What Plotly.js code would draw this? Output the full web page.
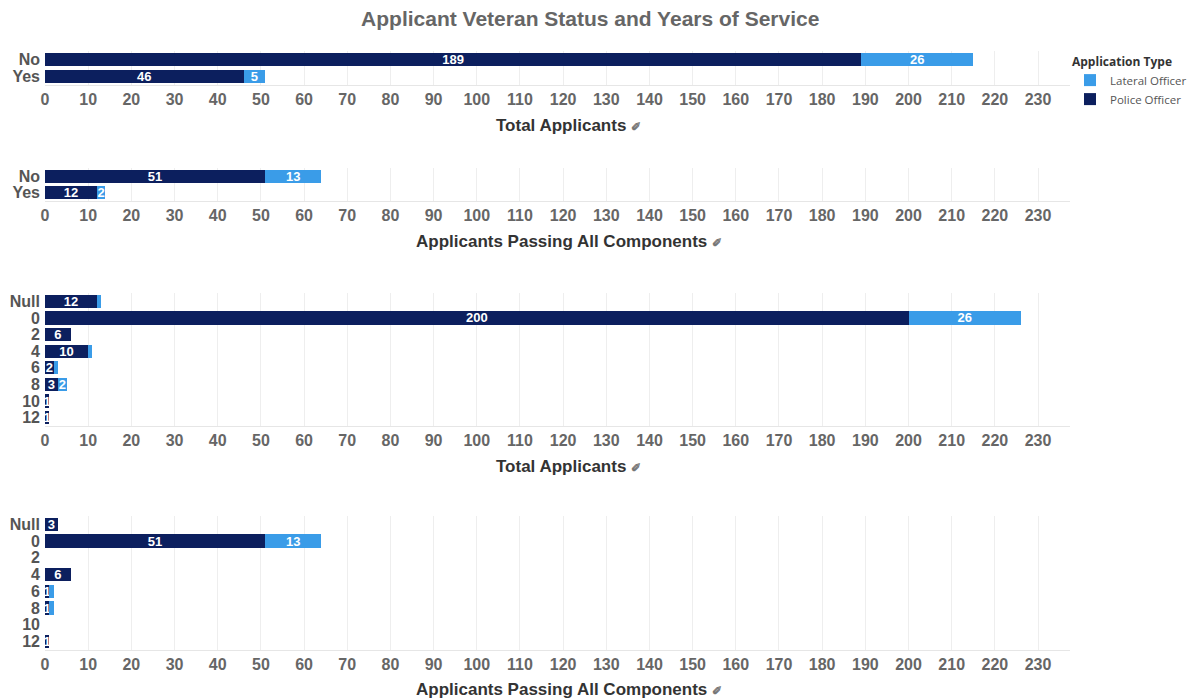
<!DOCTYPE html>
<html>
<head>
<meta charset="utf-8">
<script src="https://cdn.plot.ly/plotly-3.0.1.min.js"></script>
<style>html,body{margin:0;padding:0;background:#fff;}#chart{width:1190px;height:700px;}</style>
</head>
<body>
<div id="chart"></div>
<script>
const vetCats = ['No', 'Yes'];
const vetTotalPolice = [189, 46];
const vetTotalLateral = [26, 5];
const vetPassPolice = [51, 12];
const vetPassLateral = [13, 2];

const yrsCats = ['Null', '0', '2', '4', '6', '8', '10', '12'];
const yrsTotalPolice = [12, 200, 6, 10, 2, 3, 1, 1];
const yrsTotalLateral = [1, 26, 0, 1, 1, 2, 0, 0];
const yrsPassPolice = [3, 51, 0, 6, 1, 1, 0, 1];
const yrsPassLateral = [0, 13, 0, 0, 1, 1, 0, 0];

const xTicks = [0, 10, 20, 30, 40, 50, 60, 70, 80, 90, 100, 110, 120, 130, 140, 150, 160, 170, 180, 190, 200, 210, 220, 230];
const axisTitles = ['Total Applicants', 'Applicants Passing All Components', 'Total Applicants', 'Applicants Passing All Components'];
const seriesNames = ['Police Officer', 'Lateral Officer'];

const POLICE = '#0c1f5e';
const LATERAL = '#3a9ce8';
const H = 700;

const panels = [
  {cats: vetCats, police: vetTotalPolice, lateral: vetTotalLateral, top: 51, bottom: 85, titleY: 125},
  {cats: vetCats, police: vetPassPolice, lateral: vetPassLateral, top: 168, bottom: 201, titleY: 241},
  {cats: yrsCats, police: yrsTotalPolice, lateral: yrsTotalLateral, top: 293, bottom: 426, titleY: 466},
  {cats: yrsCats, police: yrsPassPolice, lateral: yrsPassLateral, top: 516, bottom: 650, titleY: 689}
];

const traces = [];
const layout = {
  width: 1190, height: 700,
  margin: {l: 45, r: 108, t: 0, b: 0},
  paper_bgcolor: '#fff', plot_bgcolor: '#fff',
  barmode: 'stack', bargap: 0.2,
  showlegend: true,
  title: {text: 'Applicant Veteran Status and Years of Service', x: 0.496, xref: 'container', y: 1 - 19 / H, yref: 'container', yanchor: 'middle',
    font: {family: 'Liberation Sans, Arial, sans-serif', size: 21, color: '#666', weight: 'bold'}},
  legend: {xref: 'container', yref: 'container', x: 1070 / 1190, xanchor: 'left', y: 1 - 50 / H, yanchor: 'top', bgcolor: 'rgba(0,0,0,0)',
    title: {text: 'Application Type', font: {family: 'Open Sans, sans-serif', size: 12, color: '#333', weight: 'bold'}},
    font: {family: 'Open Sans, sans-serif', size: 11.5, color: '#555'}, itemwidth: 30, tracegroupgap: 0},
  annotations: [],
  font: {family: 'Liberation Sans, Arial, sans-serif'}
};

panels.forEach((p, i) => {
  const n = i + 1;
  const xa = 'x' + (n === 1 ? '' : n);
  const ya = 'y' + (n === 1 ? '' : n);
  [[p.police, POLICE, seriesNames[0], 2, 1], [p.lateral, LATERAL, seriesNames[1], 1, 2]].forEach(([vals, col, name, rank, minLbl]) => {
    traces.push({
      type: 'bar', orientation: 'h', x: vals, y: p.cats, xaxis: xa, yaxis: ya,
      name: name, legendgroup: name, showlegend: i === 0, legendrank: rank,
      marker: {color: col, line: {width: 0}},
      text: vals.map(v => v >= minLbl ? String(v) : ''), textposition: 'inside', insidetextanchor: 'middle',
      textangle: 0, constraintext: 'none', cliponaxis: true,
      textfont: {family: 'Liberation Sans, Arial, sans-serif', size: 13, color: '#fff', weight: 'bold'},
      hoverinfo: 'x+y+name'
    });
  });
  const dom = [1 - p.bottom / H, 1 - p.top / H];
  layout['xaxis' + (n === 1 ? '' : n)] = {
    anchor: ya, domain: [0, 1], range: [0, 237.4], tickvals: xTicks, ticktext: xTicks.map(String),
    showgrid: true, gridcolor: '#eeeeee', gridwidth: 1, zeroline: false,
    showline: true, linecolor: '#e6e6e6', linewidth: 1, ticks: '',
    tickfont: {family: 'Liberation Sans, Arial, sans-serif', size: 16, color: '#666', weight: 'bold'},
    fixedrange: true
  };
  layout['yaxis' + (n === 1 ? '' : n)] = {
    anchor: xa, domain: dom, type: 'category', categoryorder: 'array', categoryarray: p.cats, autorange: 'reversed',
    tickmode: 'array', tickvals: p.cats, ticktext: p.cats,
    showgrid: false, zeroline: false, showline: false, ticks: '', ticklabelstandoff: 4,
    tickfont: {family: 'Liberation Sans, Arial, sans-serif', size: 16, color: '#555', weight: 'bold'},
    fixedrange: true
  };
  layout.annotations.push({
    text: axisTitles[i] + ' <span style="font-size:12px;color:#777">✐</span>', xref: 'paper', x: 0.5 + 11 / 1025, xanchor: 'center',
    yref: 'paper', y: 1 - p.titleY / H, yanchor: 'middle', showarrow: false,
    font: {family: 'Liberation Sans, Arial, sans-serif', size: 17, color: '#333', weight: 'bold'}
  });
});

Plotly.newPlot('chart', traces, layout, {displayModeBar: false});
</script>
</body>
</html>
